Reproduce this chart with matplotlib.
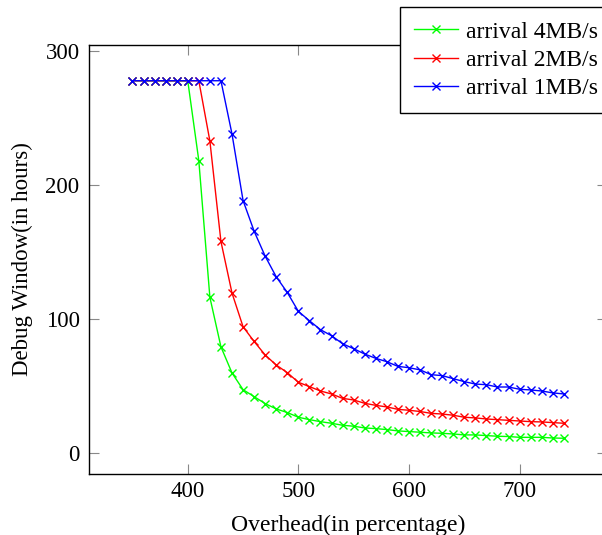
import matplotlib
matplotlib.use('Agg')
import matplotlib.pyplot as plt
import numpy as np

plt.rcParams['font.family'] = ['Liberation Serif', 'DejaVu Serif']

# overhead (%) for all three series
overhead = list(range(350, 750, 10))

# debug window in hours
window_4mb = [277.8, 277.8, 277.8, 277.8, 277.8, 277.8,
              218.1, 116.0, 79.0, 59.5, 47.0, 41.8, 36.6, 32.6, 29.9, 26.4,
              24.6, 23.1, 21.9, 20.4, 19.7, 18.4, 17.9, 17.2, 16.2, 15.7,
              15.2, 14.7, 14.4, 13.9, 13.2, 13.2, 12.7, 12.2, 12.0, 11.4,
              11.4, 11.4, 10.9, 10.7]
window_2mb = [277.8, 277.8, 277.8, 277.8, 277.8, 277.8, 277.8,
              232.8, 157.7, 119.2, 94.0, 83.0, 72.9, 65.4, 59.7, 52.5,
              49.3, 46.0, 43.8, 40.5, 39.3, 36.8, 35.3, 34.1, 32.3, 31.6,
              30.7, 29.3, 28.8, 27.9, 26.4, 25.9, 25.1, 24.6, 24.1, 23.6,
              23.1, 22.9, 22.4, 21.9]
window_1mb = [277.8, 277.8, 277.8, 277.8, 277.8, 277.8, 277.8, 277.8, 277.8,
              238.0, 188.3, 165.4, 146.7, 131.3, 119.6, 105.5,
              98.5, 91.8, 87.3, 81.3, 77.6, 73.6, 70.4, 67.9, 64.4, 63.4,
              61.8, 58.2, 57.5, 55.2, 53.0, 51.2, 50.7, 49.0, 49.0, 47.3,
              46.8, 46.0, 44.6, 43.8]

series = [('arrival 4MB/s', window_4mb, '#00ff00'),
          ('arrival 2MB/s', window_2mb, '#ff0000'),
          ('arrival 1MB/s', window_1mb, '#0000ff')]

fig = plt.figure(figsize=(6.02, 5.35), dpi=100)
ax = fig.add_axes([89.3/602, 1-474/535, (607-89.3)/602, (474-45)/535])

for label, vals, col in series:
    ax.plot(overhead, vals, color=col, lw=1.0, marker='x', ms=6, mew=1.0, label=label)

ax.set_xlim(311, 779)
ax.set_ylim(-16, 304.5)
ax.set_xticks([400, 500, 600, 700])
ax.set_yticks([0, 100, 200, 300])
ax.tick_params(direction='in', length=7, width=0.8, color='#888888',
               top=True, right=True, labelsize=16.5)
ax.tick_params(axis='x', pad=5)
ax.tick_params(axis='y', pad=7)
for s in ax.spines.values():
    s.set_linewidth(1.0)

ax.set_xlabel('Overhead(in percentage)', fontsize=17, labelpad=9)
ax.set_ylabel('Debug Window(in hours)', fontsize=16.5, labelpad=9)

leg = ax.legend(loc='upper left', bbox_to_anchor=(400/602, 1-7/535),
                bbox_transform=fig.transFigure, fontsize=17, frameon=True,
                fancybox=False, edgecolor='black', framealpha=1,
                borderaxespad=0, borderpad=0.6, handlelength=1.85,
                handletextpad=0.35, labelspacing=0.28)
leg.get_frame().set_linewidth(1.0)

fig.savefig('out.png', dpi=100)
